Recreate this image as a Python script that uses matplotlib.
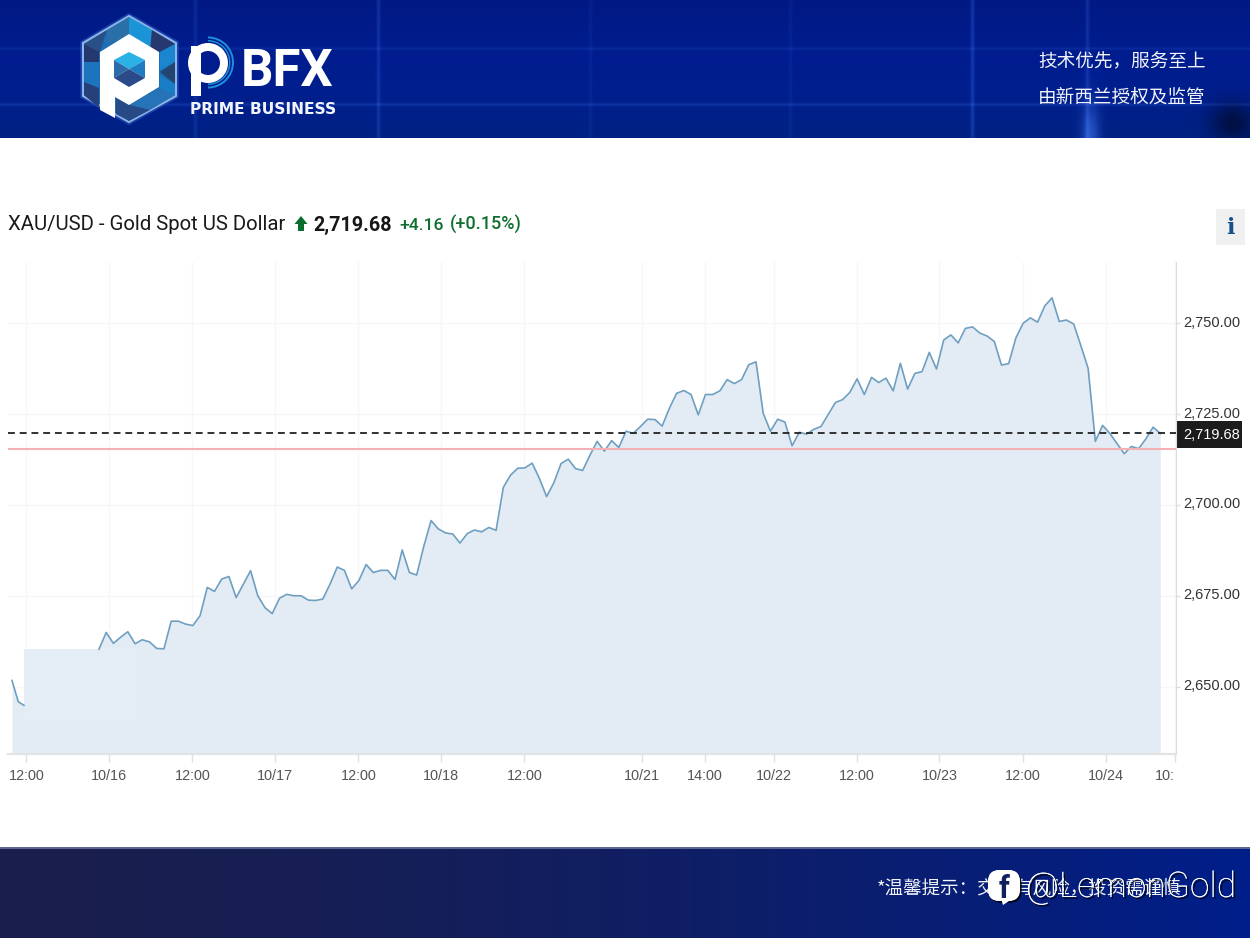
import matplotlib
matplotlib.use('Agg')
import matplotlib.pyplot as plt
import matplotlib.patheffects as pe
from matplotlib.patches import Polygon, Rectangle, FancyBboxPatch, Wedge
from matplotlib.transforms import ScaledTranslation
import numpy as np

SANS = ['Liberation Sans', 'DejaVu Sans']
ROBOTO = ['Roboto', 'DejaVu Sans']
CJK = ['Noto Sans CJK SC', 'DejaVu Sans']

# hourly closes, positions counted in bars
first_x = [-12.05, -11.18, -10.39]
first_close = [2651.7, 2645.85, 2644.85]
gap_level = 2660.3
closes = [
    2660.3, 2664.9, 2661.9, 2663.6, 2665.1, 2661.8, 2662.9, 2662.3, 2660.5, 2660.4,
    2668.0, 2668.0, 2667.2, 2666.8, 2669.5, 2677.3, 2676.2, 2679.6, 2680.3, 2674.5,
    2678.2, 2681.9, 2675.0, 2671.7, 2670.1, 2674.3, 2675.4, 2675.0, 2675.0, 2673.8,
    2673.7, 2674.1, 2678.2, 2682.9, 2682.0, 2676.9, 2679.2, 2683.6, 2681.4, 2682.0,
    2682.0, 2679.5, 2687.6, 2681.4, 2680.7, 2688.7, 2695.7, 2693.4, 2692.3, 2692.0,
    2689.5, 2692.1, 2693.1, 2692.6, 2693.8, 2693.0, 2704.8, 2708.2, 2710.1, 2710.2,
    2711.5, 2707.3, 2702.3, 2706.1, 2711.4, 2712.6, 2710.0, 2709.5, 2713.7, 2717.5,
    2714.8, 2717.7, 2715.8, 2720.3, 2719.7, 2721.6, 2723.6, 2723.5, 2721.7, 2726.6,
    2730.7, 2731.5, 2730.4, 2724.8, 2730.4, 2730.4, 2731.4, 2734.5, 2733.4, 2734.5,
    2738.6, 2739.4, 2725.2, 2720.3, 2723.6, 2722.8, 2716.3, 2720.0, 2719.5, 2720.8,
    2721.6, 2724.9, 2728.2, 2729.0, 2731.0, 2734.7, 2730.4, 2735.1, 2733.7, 2734.9,
    2731.4, 2739.0, 2731.9, 2736.2, 2736.7, 2742.0, 2737.4, 2745.4, 2746.8, 2744.6,
    2748.6, 2749.0, 2747.3, 2746.5, 2745.0, 2738.5, 2738.9, 2746.0, 2750.0, 2751.5,
    2750.3, 2754.8, 2757.0, 2750.5, 2750.9, 2749.8, 2743.8, 2737.6, 2717.5, 2721.9,
    2719.7, 2716.9, 2714.1, 2716.1, 2715.5, 2718.2, 2721.4, 2719.68,
]
last_price = 2719.68
prev_close = 2715.52

y_ticks = [2650, 2675, 2700, 2725, 2750]
x_tick_pos = [-10.07, 1.43, 12.93, 24.43, 35.93, 47.43, 58.93, 75.2, 83.9, 93.5,
              105.0, 116.4, 128.0, 139.5, 149.0]
x_tick_labels = ['12:00', '10/16', '12:00', '10/17', '12:00', '10/18', '12:00', '10/21',
                 '14:00', '10/22', '12:00', '10/23', '12:00', '10/24', '10:']

fig = plt.figure(figsize=(12.5, 9.38), dpi=100, facecolor='white')

# page furniture is laid out in pixels on a full-figure axes
page = fig.add_axes([0, 0, 1, 1], zorder=0)
page.axis('off')

# header band
xx, yy = np.meshgrid(np.arange(1250), np.arange(138))
band = np.zeros((138, 1250, 3))
band[..., 1] = 0.10 + 0.03 * yy / 138
band[..., 2] = 0.47 + 0.09 * np.exp(-((yy - 70) / 80.0) ** 2)
glow = np.zeros((138, 1250))
for lx, amp in [(195, 0.07), (378, 0.10), (972, 0.12), (1087, 0.10), (790, 0.04), (590, 0.04)]:
    glow += amp * np.exp(-((xx - lx) / 2.0) ** 2)
for ly, amp in [(48, 0.06), (104, 0.09)]:
    glow += amp * np.exp(-((yy - ly) / 1.5) ** 2)
glow += 0.25 * np.exp(-((xx - 1090) / 9.0) ** 2) * np.exp(-((yy - 138) / 35.0) ** 2)
band = band + glow[..., None] * np.array([0.6, 0.8, 1.0])
shade = 0.5 * np.exp(-((xx - 1232) / 22.0) ** 2 - ((yy - 122) / 20.0) ** 2)
band = band * (1 - shade[..., None])
page.imshow(np.clip(band, 0, 1), extent=(0, 1250, 138, 0), aspect='auto', zorder=1)

# footer band
foot = np.zeros((90, 1250, 3))
t = np.linspace(0, 1, 1250) ** 1.5
foot[:, :, 0] = 0.10 * (1 - t)
foot[:, :, 1] = 0.12
foot[:, :, 2] = 0.30 + 0.24 * t
page.imshow(foot, extent=(0, 1250, 938, 848), aspect='auto', zorder=1)
page.add_patch(Rectangle((0, 847.5), 1250, 1.2, color='#5c6794', lw=0, zorder=2))
page.set_xlim(0, 1250)
page.set_ylim(938, 0)

# hexagon emblem
hex_outer = [(129, 16), (176, 43), (176, 96), (129, 122), (83, 96), (83, 43)]
page.add_patch(Polygon(hex_outer, closed=True, fc='#1c6fb5', ec='#8fb4e8', lw=1.5, zorder=3,
                       path_effects=[pe.withStroke(linewidth=4, foreground='#2f62c8', alpha=0.5)]))
facets = [
    ([(129, 17), (152, 30), (150, 52), (129, 36)], '#1a94d6'),
    ([(129, 17), (107, 30), (108, 44), (129, 36)], '#2b6fa8'),
    ([(107, 30), (84, 44), (84, 62), (100, 52)], '#2a4f86'),
    ([(84, 44), (84, 62), (99, 62), (99, 52)], '#24386f'),
    ([(84, 62), (99, 62), (99, 88), (84, 82)], '#1c74bd'),
    ([(84, 82), (99, 88), (99, 108), (84, 95)], '#26407a'),
    ([(152, 30), (175, 44), (160, 52), (150, 52)], '#27386e'),
    ([(175, 44), (175, 62), (160, 70), (160, 52)], '#1a86cf'),
    ([(175, 62), (175, 84), (160, 72)], '#23456f'),
    ([(175, 84), (175, 95), (160, 88), (160, 76)], '#1a7ec6'),
    ([(175, 95), (150, 110), (130, 105), (160, 88)], '#2773b8'),
    ([(150, 110), (129, 121), (116, 114), (116, 98), (130, 105)], '#264a85'),
]
for pts, col in facets:
    page.add_patch(Polygon(pts, closed=True, fc=col, ec='none', zorder=4))
p_mark = [(129, 34), (159, 52), (159, 87), (129, 105), (115, 97), (115, 118), (100, 110), (100, 52)]
page.add_patch(Polygon(p_mark, closed=True, fc='white', ec='none', zorder=5))
cube = [
    ([(129, 52), (145, 60), (129, 69), (114, 60)], '#2cb1e6'),
    ([(145, 60), (145, 78), (129, 69)], '#1f7cc0'),
    ([(114, 60), (114, 78), (129, 69)], '#2a6ba8'),
    ([(114, 78), (129, 87), (145, 78), (129, 69)], '#2b4a8a'),
]
for pts, col in cube:
    page.add_patch(Polygon(pts, closed=True, fc=col, ec='none', zorder=6))

# wordmark
page.add_patch(Rectangle((191, 46), 9.5, 50, fc='white', ec='none', zorder=5))
page.add_patch(Wedge((208, 63), 20, 0, 360, width=8, fc='white', ec='none', zorder=5))
page.add_patch(Wedge((208, 62.5), 26, -90, 90, width=2, fc='#1d8fd8', ec='none', zorder=5))
page.add_patch(Wedge((208, 62.5), 22.5, -90, 90, width=1.5, fc='#1d8fd8', ec='none', zorder=5))
page.text(241, 86, 'BFX', family=ROBOTO, weight='bold', fontsize=36.6, color='white',
          ha='left', va='baseline', zorder=6)
page.text(190.5, 113.5, 'PRIME BUSINESS', family='DejaVu Sans', weight='bold',
          fontsize=11.2, color='#f1f4fb', ha='left', va='baseline', zorder=6)

page.text(1038, 61.5, '技术优先，服务至上', family=CJK, fontsize=13.4, color='#f2f4fa', va='center', zorder=6)
page.text(1038, 97.5, '由新西兰授权及监管', family=CJK, fontsize=13.4, color='#f2f4fa', va='center', zorder=6)

# quote line
page.text(8, 230.5, 'XAU/USD - Gold Spot US Dollar', family=ROBOTO, fontsize=14.7, color='#1a1a1a',
          va='baseline', zorder=6)
page.add_patch(Polygon([(301, 216), (307.5, 224), (304, 224), (304, 231), (298, 231), (298, 224), (294.5, 224)],
                       closed=True, fc='#0b6e2f', ec='none', zorder=6))
page.text(313, 230.5, '2,719.68', family=ROBOTO, weight='semibold', fontsize=14.2, color='#161616',
          va='baseline', zorder=6)
page.text(399, 229.5, '+4.16', family=ROBOTO, weight='medium', fontsize=12.6, color='#0f6e2e',
          va='baseline', zorder=6)
page.text(450, 229.5, '(+0.15%)', family=ROBOTO, weight='medium', fontsize=13, color='#0f6e2e',
          va='baseline', zorder=6)

# info button
page.add_patch(Rectangle((1216, 209), 29, 36, fc='#f0f0f0', ec='none', zorder=3))
page.text(1230.5, 228, 'i', family='DejaVu Serif', weight='bold', fontsize=16, color='#17508f',
          ha='center', va='center', zorder=6)

# flag behind the last price on the scale
page.add_patch(Rectangle((1176, 421), 66, 27, fc='#1c1c1c', ec='none', zorder=3))

# footer note and social handle
page.text(877, 888, '*温馨提示：交易有风险，投资需谨慎', family=CJK, fontsize=13.3, color='#f2f4fa',
          va='center', zorder=6)
shadow = [pe.withSimplePatchShadow(offset=(1.2, -1.2), shadow_rgbFace='black', alpha=0.9), pe.Normal()]
page.add_patch(FancyBboxPatch((994, 876), 20, 19, boxstyle='round,pad=6,rounding_size=12', fc='white',
                              ec='none', zorder=7, path_effects=shadow))
page.add_patch(Polygon([(1000, 895), (1012, 899), (1003, 905)], closed=True, fc='white', ec='none', zorder=7))
page.text(1004.5, 889, 'f', family=ROBOTO, weight='bold', fontsize=22, color='#10205c',
          ha='center', va='center', zorder=8)
page.text(1026, 897, '@LemonGold', family=ROBOTO, weight='light', fontsize=25.5,
          color='white', va='baseline', zorder=8, path_effects=shadow)

# price chart
ax = fig.add_axes([8 / 1250, (938 - 754) / 938, 1168 / 1250, 492 / 938], zorder=2)
ax.patch.set_alpha(0)
y_low, y_high = 2631.45, 2766.87
main_x = list(range(len(closes)))
ax.set_xlim(-12.6, 149.17)
ax.set_ylim(y_low, y_high)

ax.set_axisbelow(True)
ax.grid(True, color='#f6f7f9', lw=1)

# area runs across the feed gap at a flat level, the line does not
area_x = first_x + [first_x[-1]] + main_x
area_y = first_close + [gap_level] + closes
ax.fill_between(area_x, area_y, y_low, color='#dfe9f3', alpha=0.85, lw=0, zorder=2)
ax.add_patch(Rectangle((first_x[-1], 2640.8), 5.15 - first_x[-1], gap_level - 2640.8,
                       fc='#e4ecf5', ec='none', zorder=2.1))

line_col = '#6f9fc0'
ax.plot(first_x, first_close, color=line_col, lw=1.2, zorder=3)
ax.plot(main_x, closes, color=line_col, lw=1.2, zorder=3)

ax.axhline(prev_close, color='#f4b0b4', lw=1.5, zorder=4)
ax.axhline(last_price, color='#222222', lw=1.3, dashes=(3.8, 2.7), zorder=5)

ax.yaxis.tick_right()
ax.set_yticks(y_ticks)
ax.set_yticklabels(['{:,.2f}'.format(v) for v in y_ticks], family=SANS, fontsize=10.5, color='#333333')
ax.set_xticks(x_tick_pos)
ax.set_xticklabels(x_tick_labels, family=SANS, fontsize=10.4, color='#555555')
ax.get_xticklabels()[-1].set_ha('right')
ax.tick_params(axis='x', length=6, width=1, color='#e0e0e0', pad=4.5)
ax.tick_params(axis='y', length=3, width=1, color='#dddddd', pad=2)
for lab in ax.get_yticklabels():
    lab.set_transform(lab.get_transform() + ScaledTranslation(0, 1.5 / 72, fig.dpi_scale_trans))

for side in ['top', 'left']:
    ax.spines[side].set_visible(False)
ax.spines['right'].set_color('#dcdcdc')
ax.spines['bottom'].set_color('#e3e3e3')
ax.spines['bottom'].set_linewidth(1.6)

ax.annotate('{:,.2f}'.format(last_price), xy=(1, last_price), xycoords=('axes fraction', 'data'),
            xytext=(5, -0.8), textcoords='offset points', family=SANS, fontsize=10.5, color='white',
            ha='left', va='center', zorder=10, annotation_clip=False)

fig.savefig('out.png', dpi=100)
